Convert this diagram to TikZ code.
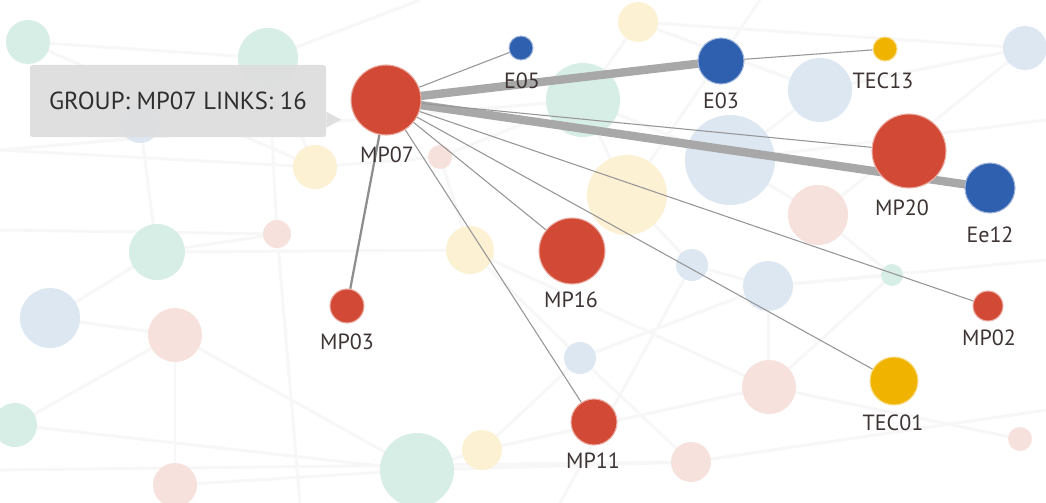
\documentclass[tikz,border=0pt]{standalone}
\usepackage{fontspec}
\setmainfont{PT Sans}
\definecolor{redn}{RGB}{210,74,54}
\definecolor{bluen}{RGB}{47,95,175}
\definecolor{yelln}{RGB}{240,180,0}
\definecolor{mintc}{RGB}{214,238,229}
\definecolor{bluec}{RGB}{221,231,242}
\definecolor{pinkc}{RGB}{247,225,221}
\definecolor{yellc}{RGB}{253,241,212}
\definecolor{labc}{RGB}{62,52,52}
\definecolor{edgec}{RGB}{150,150,150}
\definecolor{thickc}{RGB}{168,168,168}
\definecolor{tipc}{RGB}{222,222,222}
\pgfdeclarelayer{bg}
\pgfdeclarelayer{bgn}
\pgfdeclarelayer{edges}
\pgfsetlayers{bg,bgn,edges,main}
\begin{document}
\begin{tikzpicture}[x=0.75pt,y=-0.75pt,
  rad/.style={circle,inner sep=0pt,minimum size=#1*1.5pt},
  bgc/.style 2 args={rad=#1,fill=#2,draw=none},
  rednode/.style={rad=#1,fill=redn,draw=redn!45,line width=0.8pt},
  bluenode/.style={rad=#1,fill=bluen,draw=bluen!45,line width=0.8pt},
  yellnode/.style={rad=#1,fill=yelln,draw=yelln!45,line width=0.8pt},
  lab/.style={text=labc,font=\fontsize{16.5}{17}\selectfont,inner sep=0pt},
  faint/.style={draw=black!3,line width=2.2pt},
  thinedge/.style={draw=edgec,line width=0.8pt},
  midedge/.style={draw=edgec!95!black,line width=1.7pt},
  thickedge/.style={draw=thickc,line width=6.3pt},
  tip/.style={fill=tipc,fill opacity=0.95,rounded corners=2pt,minimum width=222pt,minimum height=54pt,inner sep=0pt,text=black!82,text opacity=1,font=\fontsize{18.5}{19}\selectfont}
]
\useasboundingbox (0,0) rectangle (1046,503);
\begin{pgfonlayer}{bg}
\fill[white] (0,0) rectangle (1046,503);
\end{pgfonlayer}
\begin{pgfonlayer}{bgn}
% background nodes
\node[bgc={22}{mintc}] (m1) at (28,42) {};
\node[bgc={30}{mintc}] (m2) at (268,58) {};
\node[bgc={28}{mintc}] (m3) at (157,252) {};
\node[bgc={37}{mintc}] (m4) at (583,100) {};
\node[bgc={37}{mintc}] (m5) at (417,470) {};
\node[bgc={22}{mintc}] (m6) at (15,425) {};
\node[bgc={11}{mintc}] (m7) at (892,275) {};
\node[bgc={30}{bluec}] (b1) at (50,318) {};
\node[bgc={32}{bluec}] (b2) at (820,90) {};
\node[bgc={45}{bluec}] (b3) at (730,160) {};
\node[bgc={25}{bluec}] (b4) at (768,286) {};
\node[bgc={16}{bluec}] (b5) at (692,265) {};
\node[bgc={16}{bluec}] (b6) at (580,358) {};
\node[bgc={22}{bluec}] (b7) at (1025,48) {};
\node[bgc={20}{bluec}] (b8) at (140,123) {};
\node[bgc={27}{pinkc}] (p1) at (175,335) {};
\node[bgc={14}{pinkc}] (p2) at (277,234) {};
\node[bgc={12}{pinkc}] (p3) at (440,157) {};
\node[bgc={30}{pinkc}] (p4) at (818,215) {};
\node[bgc={27}{pinkc}] (p5) at (769,387) {};
\node[bgc={20}{pinkc}] (p6) at (691,462) {};
\node[bgc={12}{pinkc}] (p7) at (1020,439) {};
\node[bgc={22}{pinkc}] (p8) at (175,485) {};
\node[bgc={22}{yellc}] (y1) at (315,167) {};
\node[bgc={24}{yellc}] (y2) at (470,250) {};
\node[bgc={40}{yellc}] (y3) at (627,195) {};
\node[bgc={20}{yellc}] (y4) at (638,22) {};
\node[bgc={20}{yellc}] (y5) at (482,450) {};
\end{pgfonlayer}
% free ends of faint lines
\coordinate (f1) at (0,150);
\coordinate (f2) at (1046,260);
\coordinate (f3) at (0,470);
\coordinate (f4) at (1046,410);
\coordinate (f5) at (420,0);
\coordinate (f6) at (560,503);
\coordinate (f7) at (1046,120);
\coordinate (f8) at (300,503);
\coordinate (f9) at (0,230);
\coordinate (f10) at (760,0);
\begin{pgfonlayer}{bg}
\foreach \a/\b in {m1/m2,m2/y1,m2/p2,m3/p2,m3/b1,b1/p1,p1/m6,p1/p8,p8/m5,m5/y5,y5/b6,b6/p6,y2/b6,y3/b5,b5/b4,b4/p5,p5/m7,m7/p4,p4/b3,b3/b2,b2/y4,y4/m4,m4/b3,y3/m4,p3/y1,p3/y2,m6/m5,p5/p7,b7/b2,p6/m5,m1/y1,m3/y2,p1/m5,y5/p5,b4/m7,p4/b7,y4/b7,m2/f5,f1/y1,f1/m4,f9/p2,f3/p6,f4/p6,f2/b4,f6/b5,f7/b3,f8/p2,f10/y3,b8/m3,b8/m2,y2/p5,b6/b4,m4/p3}
  \draw[faint] (\a.center) -- (\b.center);
\end{pgfonlayer}
% main nodes
\node[rednode=35] (mp07) at (386,100) {};
\node[bluenode=12] (e05) at (521,48) {};
\node[bluenode=23] (e03) at (721,61) {};
\node[yellnode=12] (tec13) at (885,49) {};
\node[rednode=37] (mp20) at (909,151) {};
\node[bluenode=25] (ee12) at (990,188) {};
\node[rednode=33] (mp16) at (572,251) {};
\node[rednode=17] (mp03) at (347,306) {};
\node[rednode=23] (mp11) at (594,422) {};
\node[rednode=15] (mp02) at (988,306) {};
\node[yellnode=24] (tec01) at (894,381) {};
% labels
\node[lab] (l07) at (387,155) {MP07};
\node[lab] (l05) at (522,81) {E05};
\node[lab] (l03) at (721,101) {E03};
\node[lab] (l13) at (883,81) {TEC13};
\node[lab] (l20) at (902,208) {MP20};
\node[lab] (l12) at (990,235) {Ee12};
\node[lab] (l16) at (571,300) {MP16};
\node[lab] (l3) at (347,342) {MP03};
\node[lab] (l11) at (593,461) {MP11};
\node[lab] (l2) at (989,338) {MP02};
\node[lab] (l01) at (893,423) {TEC01};
% edges
\begin{pgfonlayer}{edges}
\draw[thickedge] (mp07.center) -- (e03.center);
\draw[thickedge] (mp07.center) -- (ee12.center);
\draw[thinedge] (mp07) -- (e05);
\draw[thinedge] (mp07) -- (mp20);
\draw[thinedge] (mp07) -- (mp02);
\draw[thinedge] (mp07) -- (tec01);
\draw[thinedge] (mp07) -- (mp16);
\draw[thinedge] (mp07) -- (mp11);
\draw[thinedge] (e03) -- (tec13);
\draw[midedge] (mp07) -- (mp03);
\end{pgfonlayer}
% tooltip
\node[tip] (tip) at (178,101) {GROUP: MP07 LINKS: 16};
\fill[tipc,fill opacity=0.95] ([yshift=-8]tip.east) -- ++(15,8) -- ++(-15,8) -- cycle;
\end{tikzpicture}
\end{document}
